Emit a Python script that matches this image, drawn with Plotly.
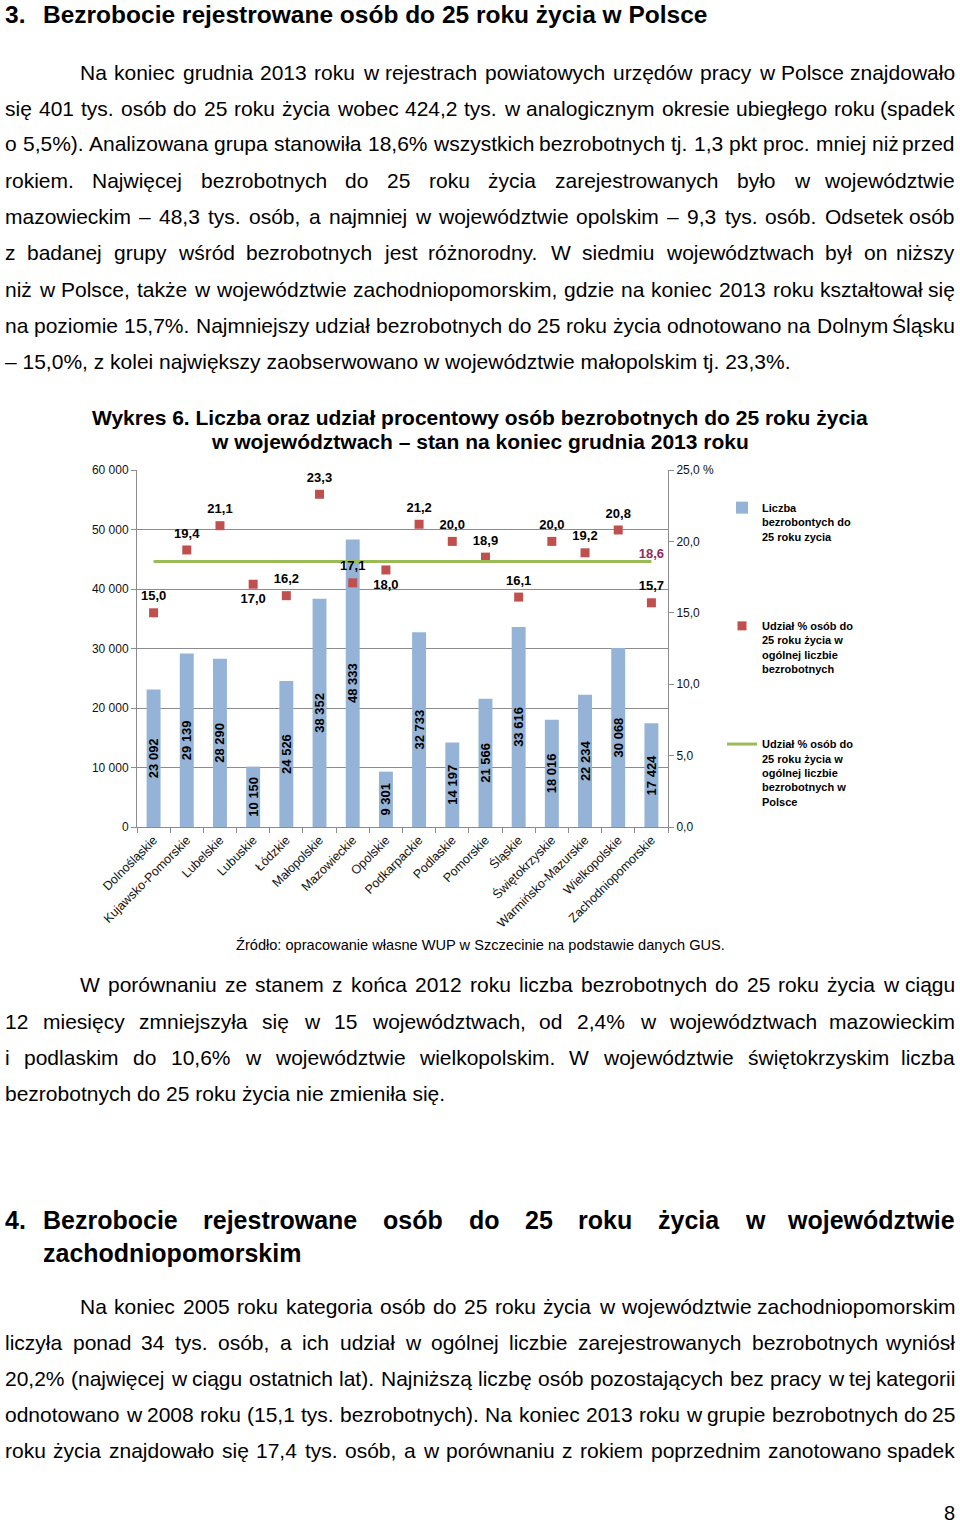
import plotly.graph_objects as go

# ---------------- data ----------------
regions = ["Dolnośląskie", "Kujawsko-Pomorskie", "Lubelskie", "Lubuskie", "Łódzkie",
           "Małopolskie", "Mazowieckie", "Opolskie", "Podkarpackie", "Podlaskie",
           "Pomorskie", "Śląskie", "Świętokrzyskie", "Warmińsko-Mazurskie",
           "Wielkopolskie", "Zachodniopomorskie"]
counts = [23092, 29139, 28290, 10150, 24526, 38352, 48333, 9301, 32733, 14197,
          21566, 33616, 18016, 22234, 30068, 17424]
shares = [15.0, 19.4, 21.1, 17.0, 16.2, 23.3, 17.1, 18.0, 21.2, 20.0, 18.9, 16.1,
          20.0, 19.2, 20.8, 15.7]
share_label_pos = ["top center", "top center", "top center", "bottom center", "top center",
                   "top center", "top center", "bottom center", "top center", "top center",
                   "top center", "top center", "top center", "top center", "top center",
                   "top center"]
poland_share = 18.6
left_ticks = [0, 10000, 20000, 30000, 40000, 50000, 60000]
right_ticks = [0, 5, 10, 15, 20, 25]
right_tick_text = ["0,0", "5,0", "10,0", "15,0", "20,0", "25,0 %"]

W, H = 960, 1525
FONT = "Liberation Sans, Arial, Helvetica, sans-serif"

def fmt_int(v):
    return f"{v:,}".replace(",", " ")

def fmt_pct(v):
    return f"{v:.1f}".replace(".", ",")

# ---------------- text metrics (Arial / Liberation Sans) ----------------
REG = {' ': 278, '%': 889, '(': 333, ')': 333, ',': 278, '-': 333, '.': 278, ':': 278,
       '–': 556, 'a': 556, 'b': 556, 'c': 500, 'd': 556, 'e': 556, 'f': 278, 'g': 556,
       'h': 556, 'i': 222, 'j': 222, 'k': 500, 'l': 222, 'm': 833, 'n': 556, 'o': 556,
       'p': 556, 'q': 556, 'r': 333, 's': 500, 't': 278, 'u': 556, 'v': 500, 'w': 722,
       'x': 500, 'y': 500, 'z': 500, 'ą': 556, 'ć': 500, 'ę': 556, 'ł': 222, 'ń': 556,
       'ó': 556, 'ś': 500, 'ź': 500, 'ż': 500, 'A': 667, 'B': 667, 'C': 722, 'D': 722,
       'E': 667, 'F': 611, 'G': 778, 'H': 722, 'I': 278, 'J': 500, 'K': 667, 'L': 556,
       'M': 833, 'N': 722, 'O': 778, 'P': 667, 'R': 722, 'S': 667, 'T': 611, 'U': 722,
       'W': 944, 'Z': 611, 'Ś': 667, 'Ź': 611, 'Ż': 611, 'Ł': 556}
BOLD = {' ': 278, '%': 889, '(': 333, ')': 333, ',': 278, '-': 333, '.': 278, ':': 333,
        '–': 556, 'a': 556, 'b': 611, 'c': 556, 'd': 611, 'e': 556, 'f': 333, 'g': 611,
        'h': 611, 'i': 278, 'j': 278, 'k': 556, 'l': 278, 'm': 889, 'n': 611, 'o': 611,
        'p': 611, 'q': 611, 'r': 389, 's': 556, 't': 333, 'u': 611, 'v': 556, 'w': 778,
        'x': 556, 'y': 556, 'z': 500, 'ą': 556, 'ć': 556, 'ę': 556, 'ł': 278, 'ń': 611,
        'ó': 611, 'ś': 556, 'ź': 500, 'ż': 500, 'B': 722, 'P': 667, 'W': 944, 'L': 611}

def tw(s, bold=False):
    tab = BOLD if bold else REG
    return sum(tab.get(ch, 556) for ch in s) / 1000.0

annotations = []

def put(text, x, y, size, bold=False, anchor="left", color="black"):
    annotations.append(dict(text=text, x=x / W, y=1 - y / H, xref="paper", yref="paper",
                            xanchor=anchor, yanchor="middle", showarrow=False,
                            borderpad=0,
                            font=dict(family=FONT, size=size, color=color,
                                      weight="bold" if bold else "normal")))

def line(text, y, x0=4, x1=956, size=21, bold=False, justify=True):
    if not justify:
        put(text, x0, y, size, bold)
        return
    words = text.split(" ")
    widths = [tw(w, bold) * size for w in words]
    gap = (x1 - x0 - sum(widths)) / (len(words) - 1)
    x = x0
    for i, (w, wd) in enumerate(zip(words, widths)):
        if i == len(words) - 1:
            put(w, x1, y, size, bold, anchor="right")
        else:
            put(w, x, y, size, bold)
        x += wd + gap

# ---------------- page text ----------------
put("3.", 4, 15, 24.5, True)
put("Bezrobocie rejestrowane osób do 25 roku życia w Polsce", 42, 15, 24.5, True)

p1 = [
    ("Na koniec grudnia 2013 roku w rejestrach powiatowych urzędów pracy w Polsce znajdowało", 72, 79, True),
    ("się 401 tys. osób do 25 roku życia wobec 424,2 tys. w analogicznym okresie ubiegłego roku (spadek", 108, 4, True),
    ("o 5,5%). Analizowana grupa stanowiła 18,6% wszystkich bezrobotnych tj. 1,3 pkt proc. mniej niż przed", 144, 4, True),
    ("rokiem. Najwięcej bezrobotnych do 25 roku życia zarejestrowanych było w województwie", 181, 4, True),
    ("mazowieckim – 48,3 tys. osób, a najmniej w województwie opolskim – 9,3 tys. osób. Odsetek osób", 217, 4, True),
    ("z badanej grupy wśród bezrobotnych jest różnorodny. W siedmiu województwach był on niższy", 253, 4, True),
    ("niż w Polsce, także w województwie zachodniopomorskim, gdzie na koniec 2013 roku kształtował się", 289, 4, True),
    ("na poziomie 15,7%. Najmniejszy udział bezrobotnych do 25 roku życia odnotowano na Dolnym Śląsku", 325, 4, True),
    ("– 15,0%, z kolei największy zaobserwowano w województwie małopolskim tj. 23,3%.", 361, 4, False),
]
p2 = [
    ("W porównaniu ze stanem z końca 2012 roku liczba bezrobotnych do 25 roku życia w ciągu", 985, 79, True),
    ("12 miesięcy zmniejszyła się w 15 województwach, od 2,4% w województwach mazowieckim", 1021, 4, True),
    ("i podlaskim do 10,6% w województwie wielkopolskim. W województwie świętokrzyskim liczba", 1057, 4, True),
    ("bezrobotnych do 25 roku życia nie zmieniła się.", 1093, 4, False),
]
p3 = [
    ("Na koniec 2005 roku kategoria osób do 25 roku życia w województwie zachodniopomorskim", 1306, 79, True),
    ("liczyła ponad 34 tys. osób, a ich udział w ogólnej liczbie zarejestrowanych bezrobotnych wyniósł", 1342, 4, True),
    ("20,2% (najwięcej w ciągu ostatnich lat). Najniższą liczbę osób pozostających bez pracy w tej kategorii", 1378, 4, True),
    ("odnotowano w 2008 roku (15,1 tys. bezrobotnych). Na koniec 2013 roku w grupie bezrobotnych do 25", 1414, 4, True),
    ("roku życia znajdowało się 17,4 tys. osób, a w porównaniu z rokiem poprzednim zanotowano spadek", 1450, 4, True),
]
for txt, y, x0, j in p1 + p2 + p3:
    line(txt, y, x0=x0, justify=j)

put("4.", 4, 1220, 25, True)
line("Bezrobocie rejestrowane osób do 25 roku życia w województwie", 1220, x0=42, size=25, bold=True)
put("zachodniopomorskim", 42, 1253, 25, True)

put("Wykres 6. Liczba oraz udział procentowy osób bezrobotnych do 25 roku życia", 480, 417, 21, True, anchor="center")
put("w województwach – stan na koniec grudnia 2013 roku", 480, 441, 21, True, anchor="center")
put("Źródło: opracowanie własne WUP w Szczecinie na podstawie danych GUS.", 480, 945, 14.6, False, anchor="center")
put("8", 956, 1513, 20, False, anchor="right")

# ---------------- chart ----------------
BAR = "#95B3D7"
RED = "#C0504D"
GREEN = "#9BBB59"
GRID = "#8C8C8C"

fig = go.Figure()
fig.add_trace(go.Bar(
    x=regions, y=counts, name="Liczba<br>bezrobontych do<br>25 roku zycia<br>\u00a0",
    marker=dict(color=BAR, line=dict(width=0)),
    text=[fmt_int(v) for v in counts], textposition="inside", insidetextanchor="middle",
    textangle=-90, constraintext="none",
    textfont=dict(family=FONT, size=13, color="black", weight="bold"),
    legendgroup="a", hoverinfo="skip"))
fig.add_trace(go.Scatter(
    x=regions, y=shares, yaxis="y2", mode="markers",
    name="Udział % osób do<br>25 roku życia w<br>ogólnej liczbie<br>bezrobotnych",
    marker=dict(symbol="square", size=9, color=RED),
    legendgroup="b", hoverinfo="skip"))
fig.add_trace(go.Scatter(
    x=regions, y=[poland_share] * len(regions), yaxis="y2", mode="lines",
    name="Udział % osób do<br>25 roku życia w<br>ogólnej liczbie<br>bezrobotnych w<br>Polsce",
    line=dict(color=GREEN, width=3), legendgroup="c", hoverinfo="skip"))
# value labels for the share markers (invisible spacer markers give the label offset)
fig.add_trace(go.Scatter(
    x=regions, y=shares, yaxis="y2", mode="markers+text", text=[fmt_pct(v) for v in shares],
    textposition=share_label_pos,
    marker=dict(size=13, opacity=0, color=RED),
    textfont=dict(family=FONT, size=13, color="black", weight="bold"),
    showlegend=False, hoverinfo="skip"))
fig.add_trace(go.Scatter(
    x=[regions[-1]], y=[poland_share], yaxis="y2", mode="text", text=[fmt_pct(poland_share)],
    textposition="top center",
    textfont=dict(family=FONT, size=13, color="#8E2C63", weight="bold"),
    showlegend=False, hoverinfo="skip"))

fig.update_layout(
    template="none",
    width=W, height=H, autosize=False,
    margin=dict(l=0, r=0, t=0, b=0, pad=0, autoexpand=False),
    paper_bgcolor="white", plot_bgcolor="white",
    font=dict(family=FONT, color="black"),
    bargap=0.58,
    uniformtext=dict(minsize=13, mode="show"),
    annotations=annotations,
    xaxis=dict(domain=[137 / W, 668 / W], type="category", tickangle=-45, automargin=False,
               range=[-0.5, len(regions) - 0.5],
               tickfont=dict(size=12.5, color="#111111"),
               ticks="outside", tickson="boundaries", ticklen=5, tickcolor=GRID,
               showline=True, linecolor=GRID, showgrid=False, zeroline=False),
    yaxis=dict(domain=[(H - 827) / H, (H - 470) / H], range=[0, 60000], automargin=False,
               tickvals=left_ticks, ticktext=[fmt_int(v) for v in left_ticks],
               tickfont=dict(size=12, color="#111111"),
               showgrid=True, gridcolor=GRID, gridwidth=1, zeroline=False,
               showline=True, linecolor=GRID, ticks="outside", ticklen=5, tickcolor=GRID),
    yaxis2=dict(overlaying="y", side="right", anchor="x", range=[0, 25], automargin=False,
                tickvals=right_ticks, ticktext=right_tick_text,
                tickfont=dict(size=12, color="#111111"),
                showgrid=False, zeroline=False, showline=True, linecolor=GRID,
                ticks="outside", ticklen=5, tickcolor=GRID),
    legend=dict(x=722 / W, y=1 - 494 / H, xanchor="left", yanchor="top",
                valign="top", tracegroupgap=58, itemwidth=30,
                font=dict(family=FONT, size=11, color="black", weight="bold"),
                bgcolor="rgba(0,0,0,0)", borderwidth=0),
    showlegend=True,
)

fig.write_html("out.html", config={"displayModeBar": False},
               post_script="document.body.style.margin='0';document.body.style.overflow='hidden';")
